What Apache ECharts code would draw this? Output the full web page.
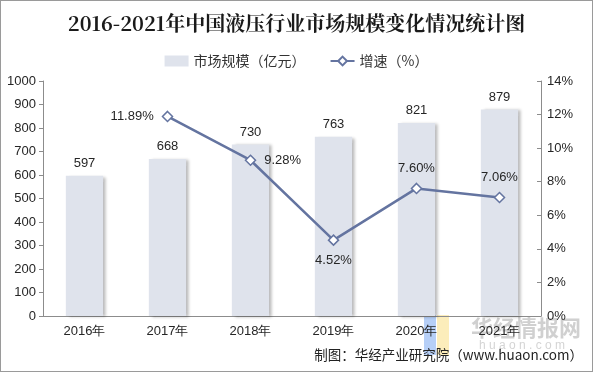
<!DOCTYPE html>
<html><head><meta charset="utf-8">
<script src="https://cdn.jsdelivr.net/npm/echarts@6/dist/echarts.min.js"></script>
<style>html,body{margin:0;padding:0;background:#fff}#c{width:593px;height:372px;box-sizing:border-box;border:1px solid #9a9a9a}</style>
</head><body><div id="c"></div>
<script>
const categories = ['2016年','2017年','2018年','2019年','2020年','2021年'];
const marketSize = [597, 668, 730, 763, 821, 879];
const growth = [null, 11.89, 9.28, 4.52, 7.60, 7.06];
const leftTicks = [0,100,200,300,400,500,600,700,800,900,1000];
const rightTicks = [0,2,4,6,8,10,12,14];
const labelPos = [null,'left','right','bottom','top','top'];

const chart = echarts.init(document.getElementById('c'), null, {renderer:'canvas'});
const font = '"Liberation Sans", Arial, sans-serif';
chart.setOption({
  animation:false,
  title:{text:'2016-2021年中国液压行业市场规模变化情况统计图',left:'center',top:7,
    textStyle:{fontFamily:'"Noto Serif CJK SC","Noto Sans CJK SC",serif',fontWeight:'bold',fontSize:20,color:'#1a1a1a'}},
  legend:{top:48,left:'center',itemGap:24,itemWidth:24,itemHeight:11,
    textStyle:{fontFamily:'"Noto Sans CJK SC",sans-serif',fontSize:14,color:'#333'},
    data:[{name:'市场规模（亿元）',icon:'rect'},{name:'增速（%）'}]},
  grid:{left:42,right:51,top:80,bottom:55,containLabel:false},
  xAxis:{type:'category',data:categories,
    axisLine:{lineStyle:{color:'#8c8c8c'}},
    axisTick:{alignWithLabel:false,lineStyle:{color:'#8c8c8c'}},
    axisLabel:{fontFamily:font,fontSize:13,color:'#262626',margin:9}},
  yAxis:[
    {type:'value',min:leftTicks[0],max:leftTicks[leftTicks.length-1],interval:100,
     axisLine:{show:true,lineStyle:{color:'#8c8c8c'}},axisTick:{show:true,length:4,lineStyle:{color:'#8c8c8c'}},
     splitLine:{show:false},axisLabel:{fontFamily:font,fontSize:13,color:'#262626',margin:7,formatter:v=>String(v)}},
    {type:'value',min:rightTicks[0],max:rightTicks[rightTicks.length-1],interval:2,
     axisLine:{show:true,lineStyle:{color:'#8c8c8c'}},axisTick:{show:true,inside:true,length:4,lineStyle:{color:'#8c8c8c'}},
     splitLine:{show:false},axisLabel:{fontFamily:font,fontSize:13,color:'#262626',margin:6,formatter:'{value}%'}}
  ],
  series:[
    {name:'市场规模（亿元）',type:'bar',data:marketSize,barWidth:'45%',
     itemStyle:{color:'#dfe3ec',shadowColor:'rgba(0,0,0,0.28)',shadowBlur:3,shadowOffsetX:3,shadowOffsetY:1},
     label:{show:true,position:'top',distance:6,fontFamily:font,fontSize:13,color:'#262626'}},
    {name:'增速（%）',type:'line',yAxisIndex:1,
     data:growth.map((v,i)=>v===null?null:{value:v,label:{position:labelPos[i]}}),
     symbol:'diamond',symbolSize:10,showAllSymbol:true,connectNulls:false,
     lineStyle:{color:'#6474a0',width:2.5},
     itemStyle:{color:'#fff',borderColor:'#6474a0',borderWidth:1.5},
     label:{show:true,distance:8,fontFamily:font,fontSize:13,color:'#262626',formatter:p=>p.value.toFixed(2)+'%'}}
  ],
  graphic:[
    {type:'text',left:470,top:316,style:{text:'华经情报网',font:'bold 22px "Noto Sans CJK SC"',fill:'rgba(150,150,150,0.45)'}},
    {type:'text',left:478,top:339,style:{text:'h u a o n . c o m',font:'12px sans-serif',fill:'rgba(160,160,160,0.45)'}},
    {type:'rect',shape:{x:423,y:314,width:12,height:40},style:{fill:'rgba(110,160,240,0.5)'}},
    {type:'rect',shape:{x:436,y:314,width:12,height:40},style:{fill:'rgba(250,220,120,0.5)'}},
    {type:'text',right:9,top:347,style:{text:'制图：华经产业研究院（www.huaon.com）',font:'13.5px "Noto Sans CJK SC"',fill:'#222'}}
  ]
});
</script></body></html>
